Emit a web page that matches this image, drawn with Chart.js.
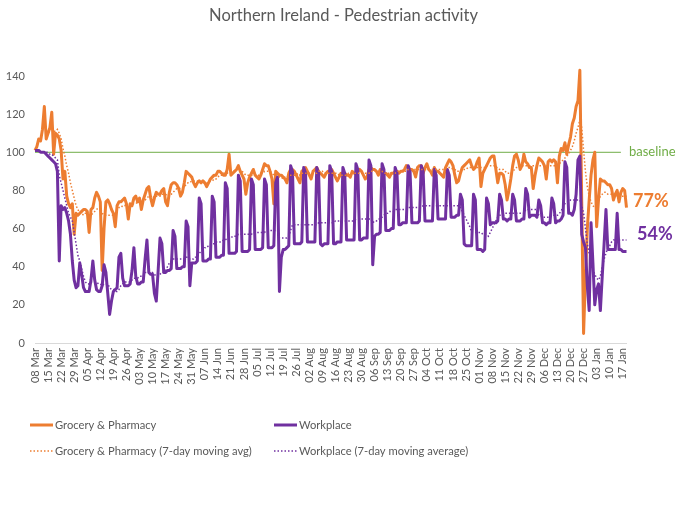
<!DOCTYPE html>
<html lang="en">
<head>
  <meta charset="utf-8">
  <title>Northern Ireland - Pedestrian activity</title>
  <script src="https://cdn.jsdelivr.net/npm/chart.js"></script>
  <style>
    body { margin: 0; background: #fff; }
    canvas { display: block; }
  </style>
</head>
<body>
  <canvas id="myChart" width="687" height="516"></canvas>
  <script>
    // weekly tick labels, one every 7 days starting 08 Mar
    var tickLabels = ['08 Mar', '15 Mar', '22 Mar', '29 Mar', '05 Apr', '12 Apr', '19 Apr', '26 Apr',
      '03 May', '10 May', '17 May', '24 May', '31 May', '07 Jun', '14 Jun', '21 Jun', '28 Jun',
      '05 Jul', '12 Jul', '19 Jul', '26 Jul', '02 Aug', '09 Aug', '16 Aug', '23 Aug', '30 Aug',
      '06 Sep', '13 Sep', '20 Sep', '27 Sep', '04 Oct', '11 Oct', '18 Oct', '25 Oct', '01 Nov',
      '08 Nov', '15 Nov', '22 Nov', '29 Nov', '06 Dec', '13 Dec', '20 Dec', '27 Dec', '03 Jan',
      '10 Jan', '17 Jan'];

    // daily values, % of baseline
    var grocery = [
      101, 103, 107, 106, 112, 124, 107, 110, 113, 121,
      99, 110, 109, 107, 101, 86, 90, 77, 73, 71,
      73, 57, 68, 67, 68, 69, 70, 70, 69, 58,
      70, 71, 76, 79, 77, 74, 38, 60, 74, 75,
      73, 70, 68, 61, 72, 74, 74, 75, 76, 73,
      65, 73, 72, 76, 77, 74, 76, 70, 75, 78,
      81, 82, 76, 72, 76, 79, 78, 78, 80, 81,
      74, 72, 79, 83, 84, 84, 83, 81, 77, 79,
      84, 90, 89, 88, 87, 84, 82, 84, 85, 84,
      85, 84, 82, 84, 86, 87, 88, 88, 90, 90,
      89, 88, 88, 91, 99, 88, 89, 90, 91, 93,
      90, 88, 86, 78, 84, 87, 89, 91, 88, 87,
      86, 88, 91, 94, 93, 93, 90, 86, 73, 90,
      89, 88, 88, 87, 86, 84, 89, 91, 91, 90,
      88, 86, 84, 90, 91, 92, 90, 88, 86, 90,
      91, 92, 90, 89, 88, 87, 89, 90, 90, 91,
      89, 87, 85, 87, 89, 89, 89, 88, 88, 87,
      90, 89, 89, 90, 91, 90, 88, 86, 87, 91,
      92, 91, 91, 90, 88, 91, 90, 89, 89, 88,
      87, 89, 89, 90, 90, 89, 90, 90, 91, 93,
      92, 91, 91, 90, 87, 92, 93, 93, 89, 92,
      94, 91, 90, 88, 92, 90, 90, 89, 88, 87,
      92, 94, 96, 95, 93, 88, 84, 85, 89, 92,
      93, 94, 95, 96, 93, 91, 92, 95, 97, 82,
      89, 91, 93, 95, 97, 98, 98, 91, 84, 89,
      89, 88, 83, 75, 80, 86, 93, 98, 99, 96,
      91, 93, 99, 95, 94, 92, 92, 81, 88, 93,
      97, 96, 95, 93, 86, 95, 96, 95, 96, 95,
      84, 98, 102, 101, 105, 99, 104, 108, 115, 118,
      124, 127, 143, 74, 5, 35, 60, 75, 88, 96,
      100, 61, 75, 86, 85, 85, 84, 83, 83, 81,
      75, 78, 80, 74, 79, 81, 80, 71
    ];

    var workplace = [
      101, 101, 101, 100, 100, 100, 99, 98, 97, 96,
      95, 94, 90, 43, 72, 70, 71, 68, 64, 57,
      43, 33, 29, 30, 42, 36, 29, 27, 27, 27,
      33, 43, 33, 28, 27, 27, 30, 41, 37, 26,
      15, 22, 27, 28, 29, 45, 47, 34, 30, 30,
      30, 31, 38, 50, 35, 31, 31, 32, 32, 44,
      54, 37, 36, 36, 26, 22, 38, 55, 52, 37,
      37, 38, 38, 39, 59, 56, 39, 39, 39, 40,
      40, 64, 61, 30, 42, 42, 42, 43, 76, 73,
      43, 43, 43, 44, 44, 77, 74, 45, 45, 45,
      46, 46, 84, 81, 47, 47, 47, 47, 48, 88,
      85, 48, 48, 48, 48, 49, 86, 83, 49, 49,
      49, 49, 50, 86, 83, 50, 50, 50, 51, 84,
      87, 27, 45, 49, 49, 50, 51, 93, 90, 52,
      52, 52, 52, 53, 92, 89, 53, 53, 53, 53,
      53, 92, 89, 52, 51, 52, 52, 52, 93, 90,
      52, 52, 53, 53, 53, 92, 89, 54, 54, 54,
      54, 54, 94, 91, 54, 54, 55, 55, 55, 96,
      93, 41, 56, 57, 57, 58, 94, 91, 59, 59,
      59, 60, 60, 92, 89, 62, 62, 63, 63, 63,
      93, 90, 63, 63, 63, 63, 64, 93, 90, 64,
      64, 64, 64, 64, 91, 88, 65, 65, 65, 65,
      65, 91, 88, 66, 66, 66, 67, 67, 78, 75,
      52, 51, 51, 51, 51, 78, 75, 49, 49, 49,
      48, 49, 76, 73, 62, 63, 63, 63, 64, 78,
      75, 65, 65, 64, 65, 65, 78, 75, 64, 64,
      64, 65, 65, 81, 78, 66, 67, 67, 67, 66,
      75, 72, 63, 63, 62, 63, 63, 76, 73, 63,
      64, 64, 65, 67, 95, 92, 68, 68, 67, 70,
      78, 96, 98, 57, 53, 50, 30, 17, 63, 42,
      20, 28, 31, 17, 35, 52, 70, 49, 49, 49,
      49, 49, 68, 49, 49, 48, 48, 48
    ];

    // 7-day moving averages
    var groceryAvg = [
      null, null, null, null, null, null, 109, 110, 111, 113,
      111, 111, 112, 110, 107, 102, 98, 93, 89, 84,
      80, 76, 72, 70, 68, 68, 67, 68, 69, 67,
      67, 68, 69, 70, 71, 71, 68, 67, 67, 67,
      67, 67, 67, 68, 70, 71, 71, 72, 72, 73,
      72, 72, 73, 73, 73, 74, 74, 74, 75, 75,
      76, 77, 77, 76, 77, 77, 77, 77, 78, 78,
      78, 77, 78, 78, 79, 80, 81, 81, 81, 81,
      82, 83, 84, 84, 85, 85, 85, 85, 85, 84,
      84, 84, 84, 84, 85, 85, 86, 86, 87, 88,
      88, 89, 89, 89, 90, 90, 90, 90, 91, 91,
      91, 90, 89, 88, 88, 88, 88, 88, 88, 88,
      88, 89, 89, 90, 90, 90, 90, 89, 88, 88,
      88, 87, 87, 86, 87, 87, 88, 88, 88, 88,
      88, 89, 88, 89, 89, 89, 89, 89, 89, 89,
      89, 89, 90, 90, 90, 89, 89, 89, 89, 89,
      89, 89, 89, 88, 88, 88, 88, 88, 89, 89,
      89, 89, 89, 89, 89, 89, 89, 89, 89, 89,
      90, 90, 90, 90, 90, 90, 90, 89, 89, 89,
      89, 89, 89, 89, 90, 90, 90, 90, 90, 90,
      91, 91, 91, 91, 91, 91, 91, 91, 91, 91,
      91, 91, 91, 91, 91, 91, 91, 91, 91, 91,
      91, 92, 92, 92, 91, 91, 90, 90, 90, 91,
      91, 91, 92, 92, 92, 92, 92, 92, 92, 92,
      92, 92, 93, 93, 93, 93, 93, 92, 92, 91,
      91, 91, 90, 89, 89, 89, 90, 91, 92, 92,
      93, 93, 93, 93, 93, 93, 93, 93, 93, 93,
      93, 93, 93, 93, 93, 93, 93, 93, 93, 93,
      93, 94, 95, 96, 97, 98, 99, 101, 103, 106,
      110, 113, 117, 113, 101, 90, 82, 77, 74, 72,
      71, 72, 75, 77, 78, 79, 79, 78, 78, 78,
      77, 77, 77, 76, 77, 77, 77, 77
    ];

    var workplaceAvg = [
      null, null, null, null, null, null, 100, 100, 99, 99,
      98, 97, 96, 88, 84, 80, 76, 72, 68, 66,
      64, 58, 52, 46, 43, 39, 35, 32, 31, 31,
      32, 32, 32, 32, 31, 31, 30, 31, 31, 31,
      29, 28, 28, 27, 27, 28, 30, 31, 32, 32,
      32, 32, 33, 34, 34, 34, 35, 35, 35, 37,
      37, 37, 37, 37, 36, 35, 35, 36, 37, 37,
      38, 40, 42, 43, 44, 44, 44, 44, 44, 44,
      44, 45, 45, 44, 44, 44, 45, 45, 47, 48,
      49, 50, 50, 51, 51, 52, 52, 53, 53, 53,
      53, 54, 54, 55, 55, 55, 56, 56, 56, 57,
      57, 57, 57, 57, 57, 57, 57, 58, 58, 58,
      58, 58, 58, 58, 59, 59, 59, 59, 59, 59,
      59, 55, 55, 55, 55, 55, 56, 59, 62, 62,
      62, 62, 62, 62, 62, 62, 62, 62, 62, 62,
      62, 62, 63, 63, 63, 63, 63, 63, 63, 63,
      63, 64, 64, 64, 64, 64, 64, 64, 64, 64,
      64, 64, 65, 65, 65, 65, 65, 65, 65, 65,
      65, 63, 64, 64, 65, 65, 66, 67, 68, 68,
      69, 69, 69, 70, 70, 70, 70, 70, 70, 70,
      71, 71, 71, 71, 71, 71, 71, 71, 72, 72,
      72, 72, 72, 72, 72, 72, 72, 72, 72, 72,
      72, 72, 72, 72, 72, 72, 72, 72, 71, 69,
      67, 65, 63, 61, 58, 58, 58, 58, 58, 58,
      57, 57, 57, 56, 58, 60, 62, 64, 66, 67,
      67, 67, 68, 68, 68, 68, 68, 68, 68, 68,
      68, 68, 68, 70, 70, 70, 70, 70, 70, 70,
      67, 67, 66, 66, 66, 66, 66, 67, 67, 67,
      67, 68, 69, 72, 73, 74, 74, 75, 75, 75,
      75, 75, 75, 72, 68, 60, 52, 47, 43, 39,
      36, 34, 33, 35, 40, 44, 47, 50, 51, 53,
      54, 54, 55, 54, 54, 54, 54, 54
    ];

    var baselineValue = 100;
    var baselineEnd = 314; // day index where the green baseline stops

    var ORANGE = '#ED7D31';
    var PURPLE = '#7030A0';
    var GREEN = '#70AD47';
    var GREY = '#595959';
    var FONT = 'Lato';

    // one category per day, only every 7th one gets a label
    var labels = grocery.map(function (v, i) {
      return i % 7 === 0 ? tickLabels[i / 7] : '';
    });

    var extras = {
      id: 'extras',
      beforeDatasetsDraw: function (chart) {
        var ctx = chart.ctx, x = chart.scales.x, y = chart.scales.y;
        var yb = y.getPixelForValue(baselineValue);
        ctx.save();
        ctx.strokeStyle = GREEN;
        ctx.lineWidth = 1;
        ctx.beginPath();
        ctx.moveTo(chart.chartArea.left, yb);
        ctx.lineTo(x.getPixelForValue(baselineEnd), yb);
        ctx.stroke();
        ctx.restore();
      },
      afterDraw: function (chart) {
        var ctx = chart.ctx, y = chart.scales.y;
        ctx.save();
        ctx.textBaseline = 'middle';

        // title, centred on the whole canvas
        ctx.textAlign = 'center';
        ctx.font = '16.5px ' + FONT;
        ctx.fillStyle = GREY;
        ctx.fillText('Northern Ireland - Pedestrian activity', chart.width / 2, 16);

        ctx.textAlign = 'left';
        ctx.font = '13px ' + FONT;
        ctx.fillStyle = GREEN;
        ctx.fillText('baseline', 629, y.getPixelForValue(baselineValue));

        ctx.font = 'bold 18px ' + FONT;
        ctx.fillStyle = ORANGE;
        ctx.fillText('77%', 633, y.getPixelForValue(77) + 5);
        ctx.fillStyle = PURPLE;
        ctx.fillText('54%', 637, y.getPixelForValue(54) - 6);

        // legend, two columns
        var items = [
          { text: 'Grocery & Pharmacy', color: ORANGE, dotted: false, x: 30, y: 425 },
          { text: 'Workplace', color: PURPLE, dotted: false, x: 274, y: 425 },
          { text: 'Grocery & Pharmacy (7-day moving avg)', color: ORANGE, dotted: true, x: 30, y: 451 },
          { text: 'Workplace (7-day moving average)', color: PURPLE, dotted: true, x: 274, y: 451 }
        ];
        items.forEach(function (it) {
          ctx.strokeStyle = it.color;
          ctx.lineWidth = it.dotted ? 1.5 : 3;
          ctx.setLineDash(it.dotted ? [1.5, 2] : []);
          ctx.beginPath();
          ctx.moveTo(it.x, it.y);
          ctx.lineTo(it.x + 23, it.y);
          ctx.stroke();
          ctx.setLineDash([]);
          ctx.font = '11.2px ' + FONT;
          ctx.fillStyle = GREY;
          ctx.fillText(it.text, it.x + 25, it.y);
        });
        ctx.restore();
      }
    };

    var ctx = document.getElementById('myChart').getContext('2d');
    var myChart = new Chart(ctx, {
      type: 'line',
      data: {
        labels: labels,
        datasets: [{
          label: 'Workplace (7-day moving average)',
          data: workplaceAvg,
          borderColor: PURPLE,
          borderWidth: 1.5,
          borderDash: [1.5, 2],
          pointRadius: 0,
          order: 0
        }, {
          label: 'Grocery & Pharmacy (7-day moving avg)',
          data: groceryAvg,
          borderColor: ORANGE,
          borderWidth: 1.5,
          borderDash: [1.5, 2],
          pointRadius: 0,
          order: 1
        }, {
          label: 'Workplace',
          data: workplace,
          borderColor: PURPLE,
          borderWidth: 3,
          borderJoinStyle: 'round',
          pointRadius: 0,
          order: 2
        }, {
          label: 'Grocery & Pharmacy',
          data: grocery,
          borderColor: ORANGE,
          borderWidth: 3,
          borderJoinStyle: 'round',
          pointRadius: 0,
          clip: false, // the Christmas peak goes above the 140 tick
          order: 3
        }]
      },
      options: {
        responsive: false,
        animation: false,
        devicePixelRatio: 1,
        layout: { padding: { left: 0, right: 60.5, top: 76, bottom: 0 } },
        plugins: {
          legend: { display: false },
          tooltip: { enabled: false },
          title: { display: false }
        },
        scales: {
          x: {
            grid: { display: false, drawTicks: false },
            border: { color: '#D9D9D9', width: 1 },
            ticks: {
              autoSkip: false,
              maxRotation: 90,
              minRotation: 90,
              padding: 5,
              color: GREY,
              font: { family: FONT, size: 11 }
            },
            afterFit: function (scale) { scale.height = 173; }
          },
          y: {
            min: 0,
            max: 140,
            grid: { display: false, drawTicks: false },
            border: { display: false },
            ticks: {
              stepSize: 20,
              padding: 10,
              color: GREY,
              font: { family: FONT, size: 11 }
            },
            afterFit: function (scale) { scale.width = 35; }
          }
        }
      },
      plugins: [extras]
    });
  </script>
</body>
</html>
